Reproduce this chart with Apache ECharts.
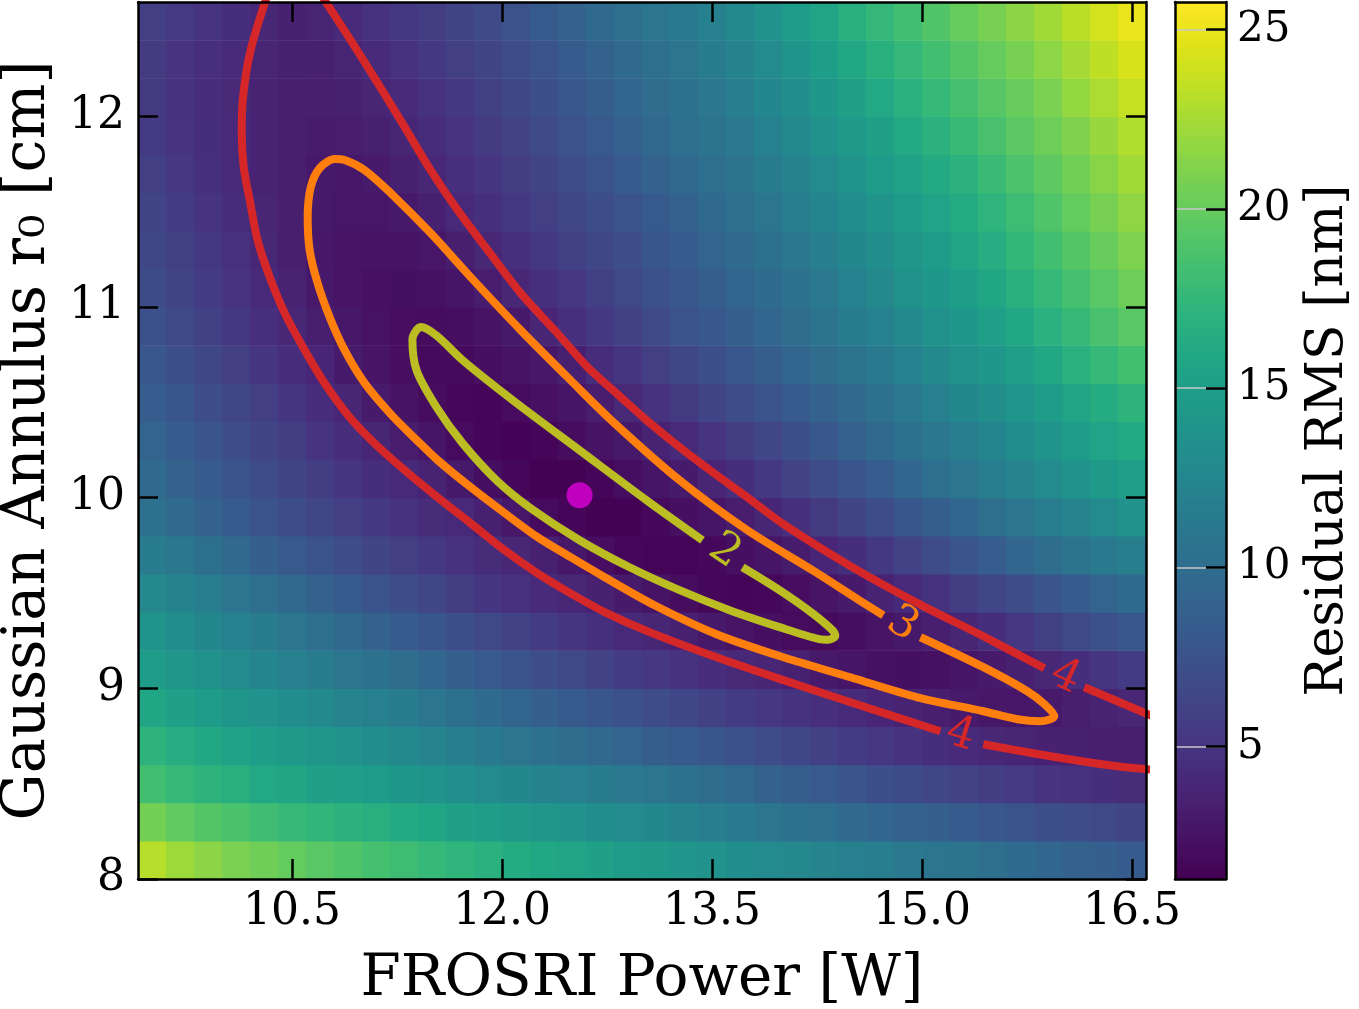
<!DOCTYPE html>
<html>
<head>
<meta charset="utf-8">
<script src="https://cdn.jsdelivr.net/npm/echarts@6/dist/echarts.min.js"></script>
<style>
html,body{margin:0;padding:0;background:#ffffff;}
#chart{width:1359px;height:1009px;}
</style>
</head>
<body>
<div id="chart"></div>
<script>
// ---------------- data ----------------
const xRange = [9.4, 16.6];      // FROSRI Power [W]
const yRange = [8.0, 12.6];      // Gaussian Annulus r0 [cm]
const cbRange = [1.31, 25.77];   // Residual RMS [nm]
const xTickVals = [10.5, 12.0, 13.5, 15.0, 16.5];
const yTickVals = [8, 9, 10, 11, 12];
const cbTickVals = [5, 10, 15, 20, 25];

// cell centres of the residual map
const xCenters = [9.5, 9.7, 9.9, 10.1, 10.3, 10.5, 10.7, 10.9, 11.1, 11.3, 11.5, 11.7, 11.9, 12.1, 12.3, 12.5, 12.7, 12.9,
                  13.1, 13.3, 13.5, 13.7, 13.9, 14.1, 14.3, 14.5, 14.7, 14.9, 15.1, 15.3, 15.5, 15.7, 15.9, 16.1, 16.3, 16.5];
const yCenters = [8.1, 8.3, 8.5, 8.7, 8.9, 9.1, 9.3, 9.5, 9.7, 9.9, 10.1, 10.3, 10.5, 10.7, 10.9, 11.1, 11.3, 11.5, 11.7, 11.9, 12.1, 12.3, 12.5];

// residual RMS [nm], one row per r0 value (x from 9.5 to 16.5)
const rms_8_1  = [23.1,22.2,21.5,20.9,20.4,19.9,19.4,19.0,18.5, 18.1,17.6,17.2,16.8,16.3,15.9,15.6,15.2,14.8,14.4,14.0, 13.6,13.3,13.0,12.7,12.3,11.9, 11.6,11.2,10.9,10.6,10.2,9.8,9.4,9.0,8.7,8.3];
const rms_8_3  = [20.6,19.8,19.2,18.7,18.2,17.7,17.3,17.0,16.6, 16.2,15.8,15.3,14.9,14.5,14.1,13.7,13.3,13.0,12.6,12.2, 11.7,11.3,10.9,10.5,10.1,9.7, 9.3,9.0,8.7,8.3,7.9,7.5,7.2,6.9,6.6,6.3];
const rms_8_5  = [18.3,17.6,17.1,16.6,16.0,15.7,15.3,15.0,14.6, 14.2,13.8,13.4,13.0,12.6,12.2,11.9,11.5,11.2,10.8,10.4, 9.95,9.5,9.0,8.6,8.1,7.7, 7.2,6.8,6.4,6.1,5.7,5.35,5.0,4.75,4.5,4.35];
const rms_8_7  = [17.1,16.5,15.9,15.4,14.9,14.5,14.1,13.7,13.2, 12.8,12.3,11.8,11.3,10.9,10.4,10.0,9.5,9.1,8.6,8.2, 7.8,7.3,6.9,6.5,6.0,5.6, 5.2,4.85,4.5,4.2,3.98,3.75,3.55,3.45,3.4,3.4];
const rms_8_9  = [15.8,15.2,14.6,14.1,13.6,13.2,12.8,12.3,11.9, 11.4,10.9,10.3,9.8,9.2,8.7,8.2,7.8,7.3,6.9,6.5, 6.0,5.6,5.2,4.9,4.6,4.2, 3.85,3.6,3.35,3.02,2.8,2.75,3.0,3.3,3.65,4.0];
const rms_9_1  = [14.8,14.1,13.5,13.0,12.4,11.9,11.4,10.9,10.5, 10.0,9.4,8.7,8.1,7.6,7.1,6.6,6.1,5.6,5.2,4.8, 4.45,4.1,3.8,3.45,2.98,2.65, 2.4,2.3,2.4,2.7,3.05,3.5,4.02,4.5,5.1,5.6];
const rms_9_3  = [13.8,13.2,12.6,12.0,11.4,10.8,10.2,9.6,9.0, 8.4,7.8,7.2,6.6,6.1,5.6,5.1,4.7,4.15,3.9,3.45, 2.97,2.6,2.25,1.98,1.95,2.2, 2.6,2.98,3.4,3.9,4.5,5.2,5.9,6.6,7.3,7.9];
const rms_9_5  = [12.7,12.2,11.6,10.9,10.2,9.5,8.9,8.2,7.6, 7.0,6.4,5.7,5.1,4.65,4.3,3.98,3.55,3.05,2.55,2.05, 1.75,1.6,1.75,2.15,2.6,3.05, 3.6,4.2,4.9,5.7,6.4,7.0,7.7,8.4,9.1,9.8];
const rms_9_7  = [11.5,11.0,10.3,9.5,8.7,8.1,7.5,6.9,6.3, 5.8,5.3,4.8,4.35,3.95,3.5,2.9,2.15,1.75,1.5,1.5, 1.8,2.25,2.7,3.15,3.85,4.5, 5.3,6.1,6.9,7.7,8.5,9.3,10.0,10.7,11.3,11.8];
const rms_9_9  = [10.4,9.7,9.0,8.3,7.6,7.0,6.4,5.8,5.3, 4.8,4.35,4.05,3.5,2.85,2.0,1.6,1.35,1.4,1.8,2.25, 2.7,3.25,3.9,4.6,5.4,6.2, 7.0,7.8,8.6,9.4,10.2,10.9,11.6,12.3,13.0,13.6];
const rms_10_1 = [9.7,9.0,8.3,7.6,6.9,6.3,5.7,5.1,4.55, 4.15,3.6,3.0,2.2,1.7,1.4,1.35,1.65,2.2,2.65,3.1, 3.8,4.5,5.3,6.1,6.9,7.7, 8.5,9.3,10.1,10.9,11.6,12.3,13.0,13.7,14.4,15.0];
const rms_10_3 = [9.1,8.4,7.7,7.0,6.3,5.7,5.0,4.45,3.9, 3.25,2.7,2.0,1.6,1.45,1.65,2.05,2.5,3.0,3.65,4.3, 5.0,5.7,6.4,7.2,8.0,8.8, 9.6,10.3,11.0,11.7,12.4,13.2,13.9,14.7,15.5,16.1];
const rms_10_5 = [8.5,7.8,7.1,6.4,5.8,5.1,4.45,3.8,3.05, 2.5,2.05,1.75,1.65,2.0,2.35,2.7,3.25,4.1,4.8,5.4, 6.2,6.9,7.6,8.3,9.0,9.7, 10.4,11.2,11.9,12.6,13.3,14.0,14.8,15.6,16.4,17.1];
const rms_10_7 = [7.9,7.2,6.5,5.8,5.1,4.45,3.85,3.1,2.6, 2.15,1.9,1.92,2.25,2.55,2.85,3.5,4.4,5.1,5.8,6.5, 7.2,7.9,8.6,9.3,9.9,10.6, 11.3,12.1,12.8,13.5,14.2,15.0,15.9,16.8,17.6,18.4];
const rms_10_9 = [7.3,6.6,6.0,5.3,4.6,4.0,3.35,2.85,2.45, 2.15,2.05,2.2,2.55,3.0,3.8,4.6,5.3,6.0,6.7,7.5, 8.0,8.7,9.3,10.0,10.7,11.4, 12.0,12.8,13.5,14.2,15.0,15.9,16.8,17.7,18.6,19.4];
const rms_11_1 = [6.8,6.2,5.6,5.0,4.25,3.65,3.0,2.6,2.35, 2.3,2.4,2.7,3.2,4.0,4.7,5.2,5.9,6.6,7.3,7.9, 8.6,9.2,9.8,10.5,11.2,12.0, 12.7,13.5,14.2,14.9,15.8,16.7,17.6,18.5,19.4,20.3];
const rms_11_3 = [6.5,5.9,5.3,4.65,3.95,3.35,2.88,2.62,2.5, 2.55,2.78,3.3,4.0,4.7,5.3,5.9,6.5,7.1,7.8,8.4, 9.1,9.7,10.3,11.0,11.8,12.6, 13.3,14.1,14.8,15.6,16.5,17.4,18.3,19.2,20.1,21.0];
const rms_11_5 = [6.2,5.6,5.0,4.4,3.8,3.3,2.93,2.77,2.78, 2.95,3.45,4.05,4.7,5.3,5.85,6.4,7.0,7.6,8.2,9.0, 9.6,10.2,10.9,11.6,12.4,13.2, 13.9,14.7,15.5,16.3,17.2,18.1,19.0,19.9,20.8,21.7];
const rms_11_7 = [5.8,5.2,4.7,4.15,3.7,3.3,3.0,2.92,3.05, 3.45,3.98,4.6,5.1,5.7,6.3,6.9,7.6,8.3,9.0,9.6, 10.1,10.7,11.4,12.2,13.0,13.8, 14.6,15.4,16.2,17.0,17.9,18.8,19.7,20.5,21.4,22.3];
const rms_11_9 = [5.45,4.95,4.5,4.05,3.6,3.3,3.15,3.2,3.45, 3.9,4.4,4.95,5.5,6.1,6.7,7.4,8.1,8.8,9.5,10.1, 10.6,11.2,12.0,12.8,13.6,14.5, 15.3,16.1,16.9,17.8,18.6,19.5,20.3,21.1,22.0,22.9];
const rms_12_1 = [5.4,4.9,4.45,4.1,3.7,3.4,3.3,3.45,3.8, 4.3,4.8,5.3,5.9,6.5,7.2,7.9,8.6,9.3,9.9,10.5, 11.0,11.7,12.5,13.3,14.2,15.2, 16.0,16.8,17.6,18.5,19.3,20.1,20.9,21.8,22.7,23.6];
const rms_12_3 = [5.5,5.0,4.6,4.2,3.8,3.5,3.45,3.75,4.3, 4.8,5.3,5.8,6.3,6.9,7.6,8.3,9.0,9.6,10.2,10.8, 11.4,12.2,13.0,13.9,14.9,15.9, 16.7,17.5,18.3,19.2,20.0,20.8,21.6,22.5,23.4,24.3];
const rms_12_5 = [5.8,5.35,4.95,4.5,3.95,3.55,3.75,4.2,4.8, 5.3,5.7,6.2,6.7,7.4,8.2,9.0,9.6,10.2,10.8,11.3, 11.9,12.8,13.7,14.6,15.6,16.6, 17.5,18.3,19.1,20.0,20.8,21.5,22.3,23.2,24.1,25.0];
const rmsRows = [rms_8_1, rms_8_3, rms_8_5, rms_8_7, rms_8_9, rms_9_1, rms_9_3, rms_9_5, rms_9_7, rms_9_9, rms_10_1, rms_10_3,
                 rms_10_5, rms_10_7, rms_10_9, rms_11_1, rms_11_3, rms_11_5, rms_11_7, rms_11_9, rms_12_1, rms_12_3, rms_12_5];

// contour lines, [power, r0]
const contour4LowerA = [[10.335,12.66],[10.205,12.348],[10.148,12.086],[10.141,11.912],[10.155,11.734],[10.198,11.561],[10.254,11.351],[10.341,11.157],
  [10.448,10.968],[10.591,10.773],[10.733,10.600],[10.905,10.428],[11.075,10.296],[11.305,10.144],[11.540,10.002],[11.776,9.866],[12.019,9.724],
  [12.254,9.603],[12.490,9.498],[12.733,9.400],[13.054,9.295],[13.532,9.163],[14.010,9.043],[14.489,8.927],[15.131,8.775]];
const contour4LowerB = [[15.438,8.707],[15.917,8.644],[16.395,8.591],[16.66,8.572]];
const contour4UpperA = [[10.688,12.66],[10.919,12.400],[11.112,12.175],[11.305,11.944],[11.490,11.718],[11.683,11.508],[11.897,11.299],[12.133,11.073],
  [12.375,10.879],[12.611,10.685],[12.825,10.543],[13.032,10.407],[13.268,10.265],[13.504,10.134],[13.732,10.013],[14.010,9.861],[14.489,9.641],
  [14.967,9.447],[15.438,9.273],[15.874,9.105]];
const contour4UpperB = [[16.159,9.006],[16.66,8.85]];
const contour3 = [[14.989,9.268],[15.438,9.111],[15.752,8.985],[15.874,8.917],[15.945,8.854],[15.845,8.827],[15.681,8.838],[15.438,8.880],
  [14.967,8.953],[14.489,9.058],[14.010,9.163],[13.532,9.284],[13.089,9.436],[12.733,9.583],[12.490,9.688],[12.254,9.793],[12.019,9.919],
  [11.776,10.055],[11.540,10.197],[11.391,10.302],[11.212,10.433],[11.019,10.601],[10.876,10.774],[10.769,10.947],[10.683,11.125],[10.626,11.299],
  [10.612,11.472],[10.634,11.629],[10.698,11.729],[10.805,11.776],[10.876,11.771],[11.019,11.718],[11.205,11.598],[11.490,11.388],[11.776,11.157],
  [12.133,10.879],[12.490,10.616],[12.790,10.400],[13.268,10.092],[13.753,9.829],[14.217,9.620],[14.553,9.462],[14.724,9.383]];
const contour2 = [[13.718,9.635],[13.982,9.515],[14.217,9.394],[14.360,9.305],[14.380,9.275],[14.330,9.255],[14.267,9.258],[13.982,9.321],
  [13.625,9.410],[13.268,9.515],[12.911,9.635],[12.554,9.777],[12.197,9.949],[11.961,10.091],[11.719,10.285],[11.533,10.474],[11.390,10.668],
  [11.360,10.830],[11.420,10.895],[11.533,10.850],[11.719,10.721],[12.076,10.512],[12.554,10.249],[13.032,9.987],[13.432,9.777]];
// inline contour label positions
const label2Pos = [13.589, 9.719];
const label3Pos = [14.86, 9.336];
const label4UpperPos = [16.024, 9.058];
const label4LowerPos = [15.274, 8.754];
// best fit point
const bestFit = [12.554, 10.013];

// ---------------- chart ----------------
const FONT = "'DejaVu Serif', serif";
const viridis = ['#440154','#471365','#482475','#463480','#414487','#3b528b','#355f8d','#2f6c8e','#2a788e','#25848e','#21918c',
                 '#1e9c89','#22a884','#2fb47c','#44bf70','#5ec962','#7ad151','#9bd93c','#bddf26','#dfe318','#fde725'];

const cells = [];
for (let j = 0; j < yCenters.length; j++) {
  for (let i = 0; i < xCenters.length; i++) {
    cells.push([xCenters[i], yCenters[j], rmsRows[j][i]]);
  }
}
const halfX = (xCenters[1] - xCenters[0]) / 2;
const halfY = (yCenters[1] - yCenters[0]) / 2;

const chart = echarts.init(document.getElementById('chart'), null, {renderer: 'canvas'});

const axisLineStyle = {show: true, onZero: false, lineStyle: {color: '#000', width: 2.5}};
const tickStyle = (vals) => ({show: true, inside: true, length: 20, customValues: vals, lineStyle: {color: '#000', width: 2.5}});

function contourLine(data, color) {
  return {type: 'line', data: data, xAxisIndex: 0, yAxisIndex: 0, symbol: 'none', showSymbol: false, smooth: 0.3,
          lineStyle: {color: color, width: 8, cap: 'butt', join: 'round'}, silent: true, z: 3, clip: true};
}
function contourLabel(pos, text, color, rot) {
  return {type: 'scatter', data: [pos], xAxisIndex: 0, yAxisIndex: 0, symbol: 'circle', symbolSize: 2,
          itemStyle: {color: 'rgba(0,0,0,0)'}, silent: true, z: 4,
          label: {show: true, position: 'inside', formatter: text, rotate: rot, color: color, opacity: 1,
                  textBorderWidth: 0, textBorderColor: 'transparent', fontSize: 44, fontFamily: FONT}};
}

const option = {
  animation: false,
  backgroundColor: '#ffffff',
  grid: [
    {left: 138, top: 2, width: 1008, height: 877, outerBoundsMode: 'none', containLabel: false},
    {left: 1175, top: 2, width: 51, height: 877, outerBoundsMode: 'none', containLabel: false}
  ],
  xAxis: [
    {gridIndex: 0, type: 'value', min: xRange[0], max: xRange[1], position: 'bottom', z: 10,
     axisLine: axisLineStyle, axisTick: tickStyle(xTickVals),
     axisLabel: {customValues: xTickVals, formatter: (v) => v.toFixed(1), color: '#000', fontSize: 44, fontFamily: FONT, margin: 12},
     splitLine: {show: false},
     name: 'FROSRI Power [W]', nameLocation: 'middle', nameGap: 72,
     nameTextStyle: {color: '#000', fontSize: 58, fontFamily: FONT}},
    {gridIndex: 0, type: 'value', min: xRange[0], max: xRange[1], position: 'top', z: 10,
     axisLine: axisLineStyle, axisTick: tickStyle(xTickVals), axisLabel: {show: false}, splitLine: {show: false}},
    {gridIndex: 1, type: 'value', min: 0, max: 1, position: 'bottom', z: 10,
     axisLine: axisLineStyle, axisTick: {show: false}, axisLabel: {show: false}, splitLine: {show: false}},
    {gridIndex: 1, type: 'value', min: 0, max: 1, position: 'top', z: 10,
     axisLine: axisLineStyle, axisTick: {show: false}, axisLabel: {show: false}, splitLine: {show: false}}
  ],
  yAxis: [
    {gridIndex: 0, type: 'value', min: yRange[0], max: yRange[1], position: 'left', z: 10,
     axisLine: axisLineStyle, axisTick: tickStyle(yTickVals),
     axisLabel: {customValues: yTickVals, color: '#000', fontSize: 44, fontFamily: FONT, margin: 13},
     splitLine: {show: false},
     name: 'Gaussian Annulus r\u2080 [cm]', nameLocation: 'middle', nameGap: 80,
     nameTextStyle: {color: '#000', fontSize: 59, fontFamily: FONT}},
    {gridIndex: 0, type: 'value', min: yRange[0], max: yRange[1], position: 'right', z: 10,
     axisLine: axisLineStyle, axisTick: tickStyle(yTickVals), axisLabel: {show: false}, splitLine: {show: false}},
    {gridIndex: 1, type: 'value', min: cbRange[0], max: cbRange[1], position: 'right', z: 10,
     axisLine: axisLineStyle, axisTick: tickStyle(cbTickVals),
     axisLabel: {customValues: cbTickVals, color: '#000', fontSize: 42, fontFamily: FONT, margin: 11},
     splitLine: {show: true, lineStyle: {color: '#c8c8c8', width: 1.5}},
     name: 'Residual RMS [nm]', nameLocation: 'middle', nameGap: 76,
     nameTextStyle: {color: '#000', fontSize: 52, fontFamily: FONT}},
    {gridIndex: 1, type: 'value', min: cbRange[0], max: cbRange[1], position: 'left', z: 10,
     axisLine: axisLineStyle, axisTick: {show: false}, axisLabel: {show: false}, splitLine: {show: false}}
  ],
  visualMap: {
    type: 'continuous', min: cbRange[0], max: cbRange[1], dimension: 2, seriesIndex: 0,
    orient: 'vertical', left: 1175, top: 2, itemWidth: 51, itemHeight: 877, padding: 0,
    calculable: false, hoverLink: false, text: null, z: 2,
    inRange: {color: viridis}
  },
  series: [
    {type: 'custom', xAxisIndex: 0, yAxisIndex: 0, data: cells, encode: {x: 0, y: 1}, silent: true, z: 1,
     renderItem: function (params, api) {
       const x = api.value(0), y = api.value(1);
       const a = api.coord([x - halfX, y + halfY]);
       const b = api.coord([x + halfX, y - halfY]);
       return {type: 'rect', shape: {x: a[0], y: a[1], width: b[0] - a[0] + 0.6, height: b[1] - a[1] + 0.6},
               style: {fill: api.visual('color')}};
     }},
    contourLine(contour4LowerA, '#d62728'),
    contourLine(contour4LowerB, '#d62728'),
    contourLine(contour4UpperA, '#d62728'),
    contourLine(contour4UpperB, '#d62728'),
    contourLine(contour3, '#ff7f0e'),
    contourLine(contour2, '#bcbd22'),
    contourLabel(label2Pos, '2', '#bcbd22', -34),
    contourLabel(label3Pos, '3', '#ff7f0e', -31),
    contourLabel(label4UpperPos, '4', '#d62728', -25),
    contourLabel(label4LowerPos, '4', '#d62728', -17),
    {type: 'scatter', data: [bestFit], xAxisIndex: 0, yAxisIndex: 0, symbol: 'circle', symbolSize: 26,
     itemStyle: {color: '#bf00bf', opacity: 1}, silent: true, z: 5}
  ]
};
chart.setOption(option);
</script>
</body>
</html>
